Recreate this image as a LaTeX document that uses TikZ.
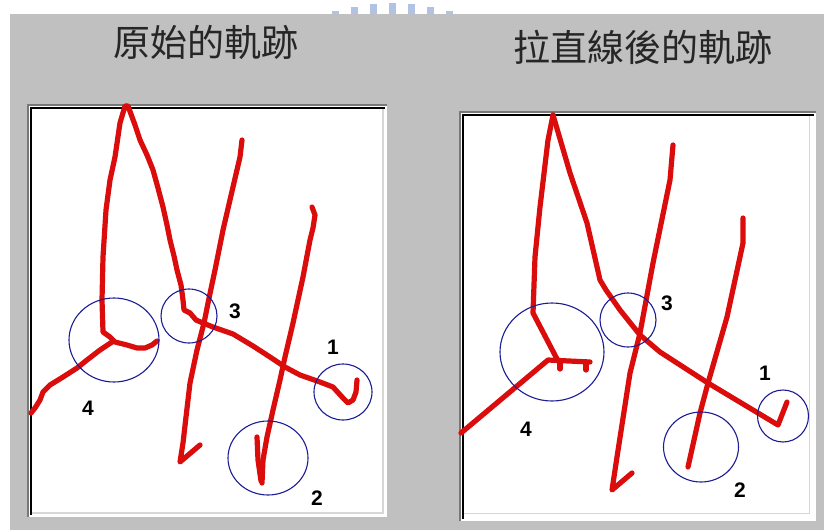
\documentclass[tikz,border=0pt]{standalone}
\usepackage{fontspec}
\setmainfont{Liberation Sans}
\newfontfamily\cjkfont{Noto Sans CJK TC}
\usetikzlibrary{shapes.geometric}
\definecolor{bggray}{RGB}{192,192,192}
\definecolor{strokered}{RGB}{218,12,12}
\definecolor{ringblue}{RGB}{28,28,150}
\definecolor{edgegray}{RGB}{120,120,120}
\definecolor{edgelight}{RGB}{215,215,215}
\definecolor{wmblue}{RGB}{178,194,228}
\tikzset{
  pen/.style={draw=strokered, line width=5.2, line join=round, line cap=round},
  ring/.style={draw=ringblue, line width=1.1, ellipse, inner sep=0pt},
  num/.style={font=\bfseries\fontsize{21}{21}\selectfont, inner sep=0pt},
  heading/.style={font=\cjkfont\fontsize{37}{37}\selectfont, inner sep=0pt, text=black!85},
  wm/.style={fill=wmblue},
}
\begin{document}
\begin{tikzpicture}[x=1pt,y=-1pt]
\useasboundingbox (0,0) rectangle (824,530);
\fill[white] (0,0) rectangle (824,530);
% watermark bars
\foreach \xx/\tt in {335/11,354/7,373/4,392/3,411/4,430/7,449/11}{
  \fill[wm] (\xx-3.5,\tt) rectangle (\xx+3.5,14);
}
\fill[bggray] (10,14) rectangle (824,530);

% titles
\node[heading] (t1) at (206,42) {原始的軌跡};
\node[heading] (t2) at (643,47) {拉直線後的軌跡};

% ---------- left panel ----------
\fill[white] (27,104) rectangle (387,517);
\draw[edgegray, line width=1.6] (27.8,517) -- (27.8,104.8) -- (387,104.8);
\draw[black, line width=2.2] (30.6,515) -- (30.6,107.6) -- (385,107.6);
\draw[edgelight, line width=1.2] (383,109) -- (383,513) -- (32,513);

% strokes (left)
\draw[pen] (157,341) -- (152,345) -- (145,348) -- (137,348) -- (127,345) -- (115,342)
  -- (110,337) -- (103,332) -- (102,300) -- (103,257) -- (106,210) -- (110,180)
  -- (115,157) -- (120,123) -- (125,106) -- (128,106) -- (135,125) -- (140,140)
  -- (147,155) -- (153,170) -- (158,188) -- (163,207) -- (167,225) -- (170,240)
  -- (174,256) -- (177,270) -- (181,285) -- (183,300) -- (184,310) -- (190,313)
  -- (196,320) -- (203,323) -- (213,327) -- (233,334) -- (253,346) -- (270,357)
  -- (285,367) -- (300,375) -- (320,382) -- (333,387) -- (343,398) -- (348,403)
  -- (353,400) -- (356,392) -- (357,380);
\draw[pen] (112,342) -- (100,350) -- (87,360) -- (77,368) -- (63,377) -- (50,385)
  -- (43,392) -- (40,400) -- (35,408) -- (31,413);
\draw[pen] (242,140) -- (240,157) -- (233,187) -- (223,230) -- (215,270) -- (208,303)
  -- (204,323) -- (197,350) -- (190,383) -- (186,417) -- (183,443) -- (180,462) -- (200,445);
\draw[pen] (312,207) -- (315,215) -- (313,228) -- (310,240) -- (303,277) -- (293,323)
  -- (285,357) -- (280,380) -- (273,410) -- (267,437) -- (263,460) -- (262,483);
\draw[pen] (257,437) -- (258,460) -- (261,481);

% rings (left)
\node[ring, minimum width=90, minimum height=84] (l4) at (114,340) {};
\node[ring, minimum width=56, minimum height=54] (l3) at (189,316) {};
\node[ring, minimum width=58, minimum height=56] (l1) at (343,392) {};
\node[ring, minimum width=80, minimum height=74] (l2) at (268,458) {};

% labels (left)
\node[num] (n3a) at (235,311) {3};
\node[num] (n1a) at (333,347) {1};
\node[num] (n4a) at (88,408) {4};
\node[num] (n2a) at (317,498) {2};

% ---------- right panel ----------
\fill[white] (459,111) rectangle (816,521);
\draw[edgegray, line width=1.6] (459.8,521) -- (459.8,111.8) -- (816,111.8);
\draw[black, line width=2.2] (462.6,519) -- (462.6,114.6) -- (814,114.6);
\draw[edgelight, line width=1.2] (809.5,116) -- (809.5,513.5) -- (464,513.5);

% strokes (right)
\draw[pen] (461,433) -- (548,360) -- (590,362);
\draw[pen] (553,115) -- (548,140) -- (540,207) -- (535,257) -- (533,313) -- (557,359);
\draw[pen] (560,361) -- (560,369);
\draw[pen] (586,362) -- (586,370);
\draw[pen] (553,115) -- (570,173) -- (587,223) -- (600,280) -- (606,290) -- (620,310)
  -- (640,335) -- (660,352) -- (708,383) -- (778,425) -- (787,402);
\draw[pen] (673,145) -- (670,180) -- (653,263) -- (640,333) -- (630,373) -- (617,457)
  -- (612,490) -- (632,473);
\draw[pen] (743,218) -- (743,243) -- (727,317) -- (708,383) -- (700,413) -- (688,467);

% rings (right)
\node[ring, minimum width=104, minimum height=98] (r4) at (552,352) {};
\node[ring, minimum width=56, minimum height=54] (r3) at (628,320) {};
\node[ring, minimum width=51, minimum height=52] (r1) at (783,416) {};
\node[ring, minimum width=75, minimum height=70] (r2) at (701,447) {};

% labels (right)
\node[num] (n3b) at (667,303) {3};
\node[num] (n1b) at (765,373) {1};
\node[num] (n4b) at (526,429) {4};
\node[num] (n2b) at (740,490) {2};
\end{tikzpicture}
\end{document}
